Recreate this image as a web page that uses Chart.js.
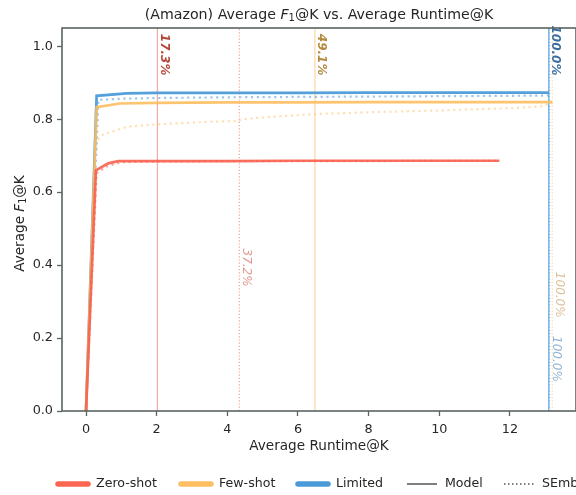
<!DOCTYPE html>
<html>
<head>
<meta charset="utf-8">
<script src="https://cdn.jsdelivr.net/npm/chart.js@4"></script>
<style>
  html, body { margin: 0; padding: 0; background: #fff; }
  #wrap { width: 576px; height: 495px; position: relative; }
</style>
</head>
<body>
<div id="wrap"><canvas id="f1Chart" width="576" height="495"></canvas></div>
<script>
// --- data: average F1@K vs average runtime@K per setting ---
const zeroModelX = [0, 0.28, 0.63, 0.91, 2, 4, 6, 8, 10, 11.7];
const zeroModelY = [0, 0.66, 0.679, 0.685, 0.685, 0.685, 0.686, 0.686, 0.686, 0.686];
const zeroSembX = [0, 0.3, 0.6, 1.0, 2, 4, 6, 8, 10, 11.7];
const zeroSembY = [0, 0.652, 0.671, 0.682, 0.684, 0.685, 0.685, 0.685, 0.686, 0.686];

const fewModelX = [0, 0.3, 0.96, 2, 4, 6, 8, 10, 12, 13.2];
const fewModelY = [0, 0.833, 0.843, 0.845, 0.846, 0.846, 0.847, 0.847, 0.847, 0.847];
const fewSembX = [0, 0.25, 0.49, 1.15, 2.0, 3.5, 4.3, 4.4, 5.5, 6.5, 8, 10, 12, 12.85, 13.2];
const fewSembY = [0, 0.736, 0.758, 0.779, 0.786, 0.793, 0.795, 0.80, 0.808, 0.814, 0.819, 0.824, 0.83, 0.835, 0.843];

const limModelX = [0, 0.3, 1.15, 2, 4, 6, 8, 10, 12, 13.1];
const limModelY = [0, 0.864, 0.871, 0.872, 0.872, 0.872, 0.873, 0.873, 0.873, 0.873];
const limSembX = [0, 0.35, 1, 2, 4, 6, 8, 10, 12, 13.1];
const limSembY = [0, 0.853, 0.856, 0.858, 0.86, 0.861, 0.862, 0.863, 0.864, 0.865];

// runtime at which each curve is reached, with the share of total runtime
const markerX = [2.02, 4.34, 6.48, 13.2, 13.1, 13.12];
const markerText = ['17.3%', '37.2%', '49.1%', '100.0%', '100.0%', '100.0%'];
const markerSeries = ['zero', 'zero', 'few', 'few', 'lim', 'lim'];
const markerKind = ['model', 'semb', 'model', 'semb', 'model', 'semb'];

const legendNames = ['Zero-shot', 'Few-shot', 'Limited', 'Model', 'SEmb'];
const xTicks = [0, 2, 4, 6, 8, 10, 12];
const yTicks = [0, 0.2, 0.4, 0.6, 0.8, 1.0];

const FONT = "'DejaVu Sans', sans-serif";
const colors = {
    zero: { line: 'rgba(250, 96, 78, 0.9)', dot: 'rgba(250, 96, 78, 0.55)', vline: 'rgba(245, 140, 125, 0.75)', vdot: 'rgba(245, 140, 125, 0.8)', text: '#b5463a', textLight: '#e3998f', legend: '#fb6552' },
    few: { line: 'rgba(252, 190, 95, 0.9)', dot: 'rgba(252, 200, 120, 0.55)', vline: 'rgba(250, 205, 140, 0.8)', vdot: 'rgba(250, 210, 150, 0.8)', text: '#b48a3e', textLight: '#dcc29d', legend: '#fdbf61' },
    lim: { line: 'rgba(70, 152, 215, 0.92)', dot: 'rgba(90, 160, 220, 0.6)', vline: 'rgba(70, 150, 215, 0.85)', vdot: 'rgba(120, 175, 225, 0.8)', text: '#3b6e9e', textLight: '#92b5d5', legend: '#4a9ad8' },
};
const SPINE = '#5b6363';
const INK = '#262626';

const zip = (xs, ys) => xs.map((x, i) => ({ x, y: ys[i] }));

function seriesSet(key, kind, xs, ys) {
    const c = colors[key];
    const solid = kind === 'model';
    return {
        label: key + '-' + kind,
        data: zip(xs, ys),
        borderColor: solid ? c.line : c.dot,
        borderWidth: solid ? 2.7 : 2.2,
        borderDash: solid ? [] : [2.2, 3.6],
        borderCapStyle: 'butt',
        pointRadius: 0,
        tension: 0,
        order: solid ? 1 : 2,
    };
}

// vertical marker lines spanning the full y range
const markerSets = markerX.map((x, i) => {
    const c = colors[markerSeries[i]];
    const solid = markerKind[i] === 'model';
    return {
        label: 'marker-' + i,
        data: [{ x, y: 0 }, { x, y: 1.05 }],
        borderColor: solid ? c.vline : c.vdot,
        borderWidth: 1.2,
        borderDash: solid ? [] : [1.2, 2],
        pointRadius: 0,
        order: 5,
    };
});

// where each rotated label ends (y value)
const markerLabelEnd = [0.92, 0.341, 0.92, 0.256, 0.92, 0.08];

const frameAndText = {
    id: 'frameAndText',
    afterDatasetsDraw(chart) {
        const { ctx, chartArea: a, scales } = chart;
        ctx.save();
        // rotated percentage labels beside the marker lines
        markerX.forEach((x, i) => {
            const c = colors[markerSeries[i]];
            const solid = markerKind[i] === 'model';
            const px = scales.x.getPixelForValue(x);
            const py = scales.y.getPixelForValue(markerLabelEnd[i]);
            ctx.save();
            ctx.translate(px + 0.5, py);
            ctx.rotate(Math.PI / 2);
            ctx.font = (solid ? 'italic bold ' : 'italic ') + '12px ' + FONT;
            ctx.fillStyle = solid ? c.text : c.textLight;
            ctx.textAlign = 'right';
            ctx.textBaseline = 'bottom';
            ctx.fillText(markerText[i], 0, 0);
            ctx.restore();
        });

        // frame around the plot
        ctx.strokeStyle = SPINE;
        ctx.lineWidth = 1.6;
        ctx.strokeRect(a.left, a.top, a.right - a.left, a.bottom - a.top);

        // title with italic F and subscript 1
        const titleParts = [
            { t: '(Amazon) Average ', f: '14.2px ' + FONT, dy: 0 },
            { t: 'F', f: 'italic 14.2px ' + FONT, dy: 0 },
            { t: '1', f: '10px ' + FONT, dy: 3 },
            { t: '@K vs. Average Runtime@K', f: '14.2px ' + FONT, dy: 0 },
        ];
        drawParts(ctx, titleParts, (a.left + a.right) / 2, 15);

        // x axis title
        ctx.font = '13.6px ' + FONT;
        ctx.fillStyle = INK;
        ctx.textAlign = 'center';
        ctx.textBaseline = 'middle';
        ctx.fillText('Average Runtime@K', (a.left + a.right) / 2, 446);

        // y axis title, rotated
        const yParts = [
            { t: 'Average ', f: '13.6px ' + FONT, dy: 0 },
            { t: 'F', f: 'italic 13.6px ' + FONT, dy: 0 },
            { t: '1', f: '9.6px ' + FONT, dy: 3 },
            { t: '@K', f: '13.6px ' + FONT, dy: 0 },
        ];
        ctx.save();
        ctx.translate(20, (a.top + a.bottom) / 2 + 4);
        ctx.rotate(-Math.PI / 2);
        drawParts(ctx, yParts, 0, 0);
        ctx.restore();

        drawLegend(ctx);
        ctx.restore();
    },
};

function drawParts(ctx, parts, cx, cy) {
    let total = 0;
    parts.forEach(p => { ctx.font = p.f; total += ctx.measureText(p.t).width; });
    let x = cx - total / 2;
    ctx.fillStyle = INK;
    ctx.textAlign = 'left';
    ctx.textBaseline = 'middle';
    parts.forEach(p => {
        ctx.font = p.f;
        ctx.fillText(p.t, x, cy + p.dy);
        x += ctx.measureText(p.t).width;
    });
}

// legend row below the x axis (runs past the right edge)
const legendStart = [58, 181, 298, 407, 504];
function drawLegend(ctx) {
    const y = 484;
    const handleLen = 30;
    ctx.font = '12.6px ' + FONT;
    ctx.textBaseline = 'middle';
    ctx.textAlign = 'left';
    legendNames.forEach((name, i) => {
        const x = legendStart[i];
        ctx.save();
        ctx.beginPath();
        ctx.moveTo(x, y);
        ctx.lineTo(x + handleLen, y);
        if (i < 3) {
            ctx.strokeStyle = colors[['zero', 'few', 'lim'][i]].legend;
            ctx.lineWidth = 5.5;
            ctx.lineCap = 'round';
        } else {
            ctx.strokeStyle = '#555';
            ctx.lineWidth = 1.5;
            if (i === 4) ctx.setLineDash([1.5, 2.5]);
        }
        ctx.stroke();
        ctx.restore();
        ctx.fillStyle = INK;
        ctx.fillText(name, x + handleLen + 8, y);
    });
}

const ctx = document.getElementById('f1Chart').getContext('2d');
new Chart(ctx, {
    type: 'line',
    data: {
        datasets: [
            seriesSet('zero', 'model', zeroModelX, zeroModelY),
            seriesSet('zero', 'semb', zeroSembX, zeroSembY),
            seriesSet('few', 'model', fewModelX, fewModelY),
            seriesSet('few', 'semb', fewSembX, fewSembY),
            seriesSet('lim', 'model', limModelX, limModelY),
            seriesSet('lim', 'semb', limSembX, limSembY),
            ...markerSets,
        ],
    },
    options: {
        responsive: false,
        animation: false,
        layout: { padding: { top: 28, right: 0, left: 0, bottom: 0 } },
        plugins: { legend: { display: false }, tooltip: { enabled: false }, title: { display: false } },
        scales: {
            x: {
                type: 'linear',
                min: -0.68,
                max: 13.87,
                afterFit: (s) => { s.height = 84; },
                afterBuildTicks: (s) => { s.ticks = xTicks.map(v => ({ value: v })); },
                border: { display: false },
                grid: { drawOnChartArea: false, drawTicks: true, tickLength: 5, tickColor: SPINE, tickWidth: 1.3 },
                ticks: { color: INK, font: { family: FONT, size: 12.8 }, padding: 6, callback: (v) => String(v) },
            },
            y: {
                type: 'linear',
                min: 0,
                max: 1.05,
                afterFit: (s) => { s.width = 62; },
                afterBuildTicks: (s) => { s.ticks = yTicks.map(v => ({ value: v })); },
                border: { display: false },
                grid: { drawOnChartArea: false, drawTicks: true, tickLength: 5, tickColor: SPINE, tickWidth: 1.3 },
                ticks: { color: INK, font: { family: FONT, size: 12.8 }, padding: 4, callback: (v) => v.toFixed(1) },
            },
        },
    },
    plugins: [frameAndText],
});
</script>
</body>
</html>
